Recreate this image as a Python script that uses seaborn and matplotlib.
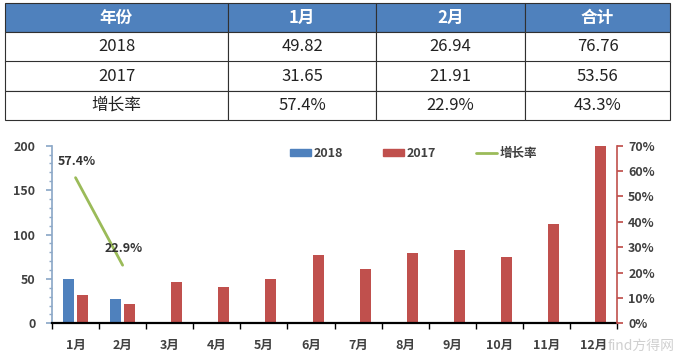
import pandas as pd
import numpy as np
import matplotlib
matplotlib.use("Agg")
import matplotlib.pyplot as plt
from matplotlib.ticker import MultipleLocator, PercentFormatter
import seaborn as sns

# table data
table_header = ["年份", "1月", "2月", "合计"]
table_rows = [["2018", "49.82", "26.94", "76.76"],
              ["2017", "31.65", "21.91", "53.56"],
              ["增长率", "57.4%", "22.9%", "43.3%"]]

# chart data
months = ["1月", "2月", "3月", "4月", "5月", "6月", "7月", "8月", "9月", "10月", "11月", "12月"]
sales_2018 = [49.82, 26.94]
sales_2017 = [31.65, 21.91, 46.8, 41.2, 49.9, 76.9, 60.9, 78.9, 82.2, 74.8, 111.4, 200]
growth = [57.4, 22.9]

blue = "#4F81BD"
red = "#C0504D"
green = "#9BBB59"
txt = "#404040"

sns.set_theme(style="white")
plt.rcParams['font.family'] = ['Noto Sans CJK SC', 'DejaVu Sans']

fig = plt.figure(figsize=(6.76, 3.55), dpi=100)
W, H = 676, 355

# ---- table ----
tax = fig.add_axes([5 / W, 1 - 120 / H, 665 / W, 117 / H])
tax.axis("off")
tbl = tax.table(cellText=table_rows, colLabels=table_header, cellLoc="center",
                colWidths=[223, 148, 149, 145], bbox=[0, 0, 1, 1])
tbl.auto_set_font_size(False)
for (r, c), cell in tbl.get_celld().items():
    cell.set_edgecolor("#303030")
    cell.set_linewidth(0.8)
    cell.get_text().set_fontsize(12)
    if r == 0:
        cell.set_facecolor(blue)
        cell.get_text().set_color("white")
        cell.get_text().set_fontweight("bold")
    else:
        cell.get_text().set_color("#222222")

# ---- chart ----
ax = fig.add_axes([52 / W, (H - 323.3) / H, 565 / W, 177.6 / H])

df = pd.DataFrame({
    "month": months[:len(sales_2018)] + months,
    "year": ["2018"] * len(sales_2018) + ["2017"] * len(sales_2017),
    "value": sales_2018 + sales_2017,
})
sns.barplot(data=df, x="month", y="value", hue="year", order=months,
            hue_order=["2018", "2017"], palette=[blue, red], saturation=1,
            width=0.6, gap=0.22, linewidth=0, ax=ax, legend=False)

ax.set_xlim(-0.5, 11.5)
ax.set_ylim(0, 200)
ax.set_xlabel("")
ax.set_ylabel("")
ax.yaxis.set_major_locator(MultipleLocator(50))
ax.yaxis.set_minor_locator(MultipleLocator(10))
ax.tick_params(axis="y", which="major", left=True, length=4, color="#8EA9C8",
               labelsize=9, labelcolor=txt, pad=8)
ax.tick_params(axis="y", which="minor", left=True, length=2.5, color="#8EA9C8")
ax.set_xticks(np.arange(12))
ax.set_xticks(np.arange(-0.5, 12, 1), minor=True)
ax.tick_params(axis="x", which="major", bottom=False, labelsize=9, labelcolor=txt, pad=5)
ax.tick_params(axis="x", which="minor", bottom=True, length=4, color="black", width=1)
for lab in ax.get_xticklabels() + ax.get_yticklabels():
    lab.set_fontweight("bold")
for s in ["top", "right"]:
    ax.spines[s].set_visible(False)
ax.spines["left"].set_color("#8EA9C8")
ax.spines["bottom"].set_color("black")
ax.spines["bottom"].set_linewidth(1.6)

ax2 = ax.twinx()
sns.lineplot(x=np.arange(len(growth)), y=growth, color=green, linewidth=2, ax=ax2)
ax2.set_ylim(0, 70)
ax2.set_xlim(-0.5, 11.5)
ax2.yaxis.set_major_locator(MultipleLocator(10))
ax2.yaxis.set_major_formatter(PercentFormatter(decimals=0))
ax2.tick_params(axis="y", right=True, length=4, color=red, labelsize=9, labelcolor=txt, pad=4)
for lab in ax2.get_yticklabels():
    lab.set_fontweight("bold")
for s in ["top", "left", "bottom"]:
    ax2.spines[s].set_visible(False)
ax2.spines["right"].set_color(red)
ax2.spines["right"].set_linewidth(1.2)

for i, g in enumerate(growth):
    ax2.annotate(f"{g}%", (i, g), xytext=(-13, 12), textcoords="offset points",
                 fontsize=9, fontweight="bold", color="#333333", ha="left", va="center")

# legend
handles = [plt.Rectangle((0, 0), 1, 1, color=blue), plt.Rectangle((0, 0), 1, 1, color=red),
           plt.Line2D([0], [0], color=green, linewidth=2)]
ax2.legend(handles, ["2018", "2017", "增长率"], ncol=3, frameon=False,
           loc="center", bbox_to_anchor=(0.64, 0.955),
           handlelength=1.7, handleheight=0.5, handletextpad=0.2, columnspacing=3.2,
           labelcolor=txt, prop={"weight": "bold", "size": 9})

fig.text(0.998, 0.005, "find方得网", ha="right", va="bottom", fontsize=10, color="#d0d0d0")

fig.savefig("out.png", dpi=100)
